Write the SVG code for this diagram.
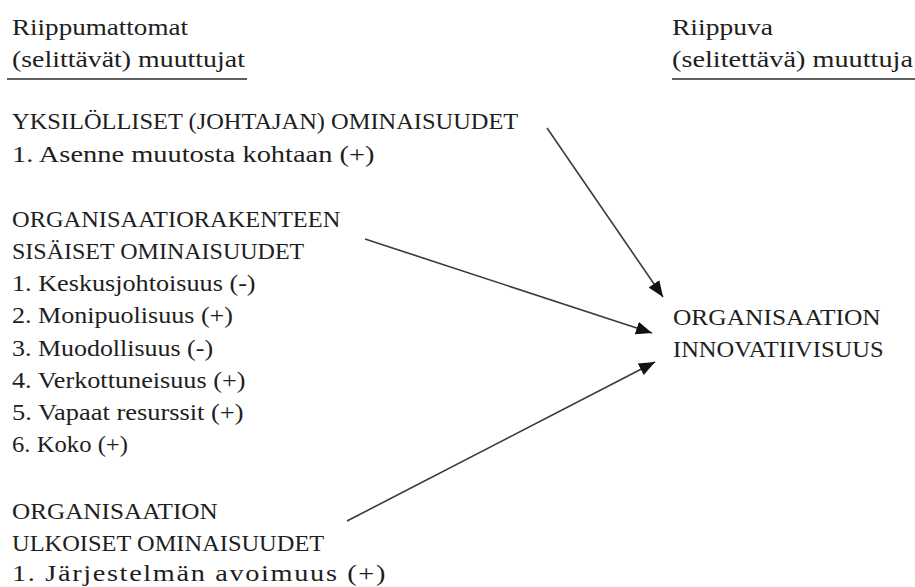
<svg xmlns="http://www.w3.org/2000/svg" width="915" height="587" viewBox="0 0 915 587">
  <style>
    .t { font-family: "Liberation Serif", serif; font-size: 24px; fill: #1e1e1e; }
    .rule { stroke: #2a2a2a; stroke-width: 1.3; }
    .conn { stroke: #3a3a3a; stroke-width: 1.6; fill: none; marker-end: url(#head); }
  </style>
  <defs>
    <marker id="head" markerUnits="userSpaceOnUse" markerWidth="18" markerHeight="14" refX="16" refY="6.5" orient="auto">
      <path d="M0,0 L16,6.5 L0,13 Z" fill="#111"/>
    </marker>
  </defs>
  <rect width="915" height="587" fill="#ffffff"/>

  <!-- column headings -->
  <g id="heading-independent">
    <text class="t" transform="translate(12 35) scale(1.129 1)">Riippumattomat</text>
    <text class="t" transform="translate(12 67) scale(1.161 1)">(selittävät) muuttujat</text>
    <line class="rule" x1="7" y1="79" x2="247" y2="79"/>
  </g>
  <g id="heading-dependent">
    <text class="t" transform="translate(672 35) scale(1.148 1)">Riippuva</text>
    <text class="t" transform="translate(672 67) scale(1.178 1)">(selitettävä) muuttuja</text>
    <line class="rule" x1="672" y1="79" x2="915" y2="79"/>
  </g>

  <!-- independent variable groups -->
  <g id="node-individual">
    <text class="t" transform="translate(12 129) scale(1.018 1)">YKSILÖLLISET (JOHTAJAN) OMINAISUUDET</text>
    <text class="t" transform="translate(12 162) scale(1.184 1)">1. Asenne muutosta kohtaan (+)</text>
  </g>
  <g id="node-internal">
    <text class="t" transform="translate(12 227) scale(1.018 1)">ORGANISAATIORAKENTEEN</text>
    <text class="t" transform="translate(12 259)">SISÄISET OMINAISUUDET</text>
    <text class="t" transform="translate(12 291) scale(1.091 1)">1. Keskusjohtoisuus (-)</text>
    <text class="t" transform="translate(12 323) scale(1.086 1)">2. Monipuolisuus (+)</text>
    <text class="t" transform="translate(12 356) scale(1.081 1)">3. Muodollisuus (-)</text>
    <text class="t" transform="translate(12 388) scale(1.093 1)">4. Verkottuneisuus (+)</text>
    <text class="t" transform="translate(12 420) scale(1.101 1)">5. Vapaat resurssit (+)</text>
    <text class="t" transform="translate(12 452) scale(1.028 1)">6. Koko (+)</text>
  </g>
  <g id="node-external">
    <text class="t" transform="translate(12 519) scale(1.05 1)">ORGANISAATION</text>
    <text class="t" transform="translate(12 551) scale(1.018 1)">ULKOISET OMINAISUUDET</text>
    <text class="t" transform="translate(12 581) scale(1.18 1)" letter-spacing="1.4">1. Järjestelmän avoimuus (+)</text>
  </g>

  <!-- dependent variable -->
  <g id="node-innovativeness">
    <text class="t" transform="translate(673 325) scale(1.06 1)">ORGANISAATION</text>
    <text class="t" transform="translate(673 357) scale(1.021 1)">INNOVATIIVISUUS</text>
  </g>

  <!-- causal arrows -->
  <g id="connectors">
    <line class="conn" x1="547" y1="128" x2="663" y2="297"/>
    <line class="conn" x1="365" y1="239" x2="652" y2="333"/>
    <line class="conn" x1="347" y1="521" x2="655" y2="362"/>
  </g>
</svg>
